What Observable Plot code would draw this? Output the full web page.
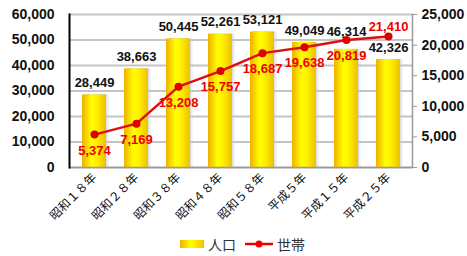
<!DOCTYPE html>
<html>
<head>
<meta charset="utf-8">
<script src="https://cdn.jsdelivr.net/npm/d3@7"></script>
<script src="https://cdn.jsdelivr.net/npm/@observablehq/plot@0.6"></script>
<style>
  body { margin: 0; background: #fff; }
  #chart { width: 467px; }
  .legend { display: flex; justify-content: center; align-items: center; height: 32px; font-family: "Noto Sans CJK JP", sans-serif; font-size: 14px; color: #333; margin-left: 26px; }
  .legend span { margin-right: 8px; }
  .sw-bar { display: inline-block; width: 24px; height: 8px; background: linear-gradient(to right, #f0b400, #ffff00 45%, #fff000 60%, #f0c000); margin-right: 4px; }
</style>
</head>
<body>
<div id="chart"></div>
<script>
const years = ["昭和１８年","昭和２８年","昭和３８年","昭和４８年","昭和５８年","平成５年","平成１５年","平成２５年"];
const population = [28449, 38663, 50445, 52261, 53121, 49049, 46314, 42326];
const households = [5374, 7169, 13208, 15757, 18687, 19638, 20819, 21410];
const leftTicks = [0, 10000, 20000, 30000, 40000, 50000, 60000];
const rightTicks = [0, 5000, 10000, 15000, 20000, 25000];

const k = 60000 / 25000;
const fmt = d3.format(",");
const data = years.map((year, i) => ({year, pop: population[i], hh: households[i], i}));
const last = data.length - 1;
const font = '"Liberation Sans", Arial, sans-serif';
// population label is lifted when the household line passes just above the bar top
const lineNear = d => d.hh * k > d.pop && d.hh * k - d.pop < 5000;

const plot = Plot.plot({
  width: 467,
  height: 228,
  marginLeft: 69,
  marginRight: 55,
  marginTop: 14,
  marginBottom: 61,
  style: {fontFamily: font, fontSize: "14px", color: "#111", background: "#fff"},
  x: {domain: years, paddingInner: 0.44, paddingOuter: 0.22, label: null},
  y: {domain: [0, 60000], label: null},
  marks: [
    Plot.gridY(leftTicks, {stroke: "#c4c4c4", strokeOpacity: 1, strokeWidth: 2}),
    Plot.barY(data, {x: "year", y: "pop", dx: 3, fill: "url(#shadowGrad)"}),
    Plot.barY(data, {x: "year", y: "pop", fill: "url(#barGrad)"}),
    Plot.ruleY([0], {stroke: "#999", strokeWidth: 1.5}),
    Plot.frame({anchor: "right", stroke: "#999", strokeWidth: 1.5}),
    Plot.frame({anchor: "left", stroke: "#000", strokeWidth: 2}),
    Plot.axisY(leftTicks, {anchor: "left", tickSize: 0, tickPadding: 15, tickFormat: fmt, fontSize: 14, fontWeight: "bold", label: null}),
    Plot.axisY(rightTicks.map(v => v * k), {anchor: "right", tickSize: 4, tickPadding: 5, stroke: "#999", tickFormat: v => fmt(Math.round(v / k)), fontSize: 14, fontWeight: "bold", label: null}),
    Plot.axisX({tickSize: 0, tickRotate: -45, tickPadding: 8, fontSize: 12, fontFamily: '"Noto Sans CJK JP", sans-serif', label: null}),
    Plot.line(data, {x: "year", y: d => d.hh * k, stroke: "#dc1010", strokeWidth: 2.5}),
    Plot.dot(data, {x: "year", y: d => d.hh * k, r: 4, fill: "#e00000", stroke: null}),
    Plot.text(data.filter(d => !lineNear(d)), {x: "year", y: "pop", text: d => fmt(d.pop), dy: -12, fontSize: 13, fontWeight: "bold", fill: "#111"}),
    Plot.text(data.filter(lineNear), {x: "year", y: "pop", text: d => fmt(d.pop), dy: -18, fontSize: 13, fontWeight: "bold", fill: "#111"}),
    Plot.text(data.filter(d => d.i < last), {x: "year", y: d => d.hh * k, text: d => fmt(d.hh), dy: 16, fontSize: 13, fontWeight: "bold", fill: "#ee0000"}),
    Plot.text(data.filter(d => d.i === last), {x: "year", y: d => d.hh * k, text: d => fmt(d.hh), dy: -10, fontSize: 13, fontWeight: "bold", fill: "#ee0000"})
  ]
});

const defs = d3.select(plot).insert("defs", ":first-child");
const g = defs.append("linearGradient").attr("id", "barGrad").attr("x1", 0).attr("x2", 1).attr("y1", 0).attr("y2", 0);
[["0%", "#f0b000"], ["40%", "#ffff00"], ["60%", "#fff200"], ["100%", "#eec000"]].forEach(([o, c]) => g.append("stop").attr("offset", o).attr("stop-color", c));
const s = defs.append("linearGradient").attr("id", "shadowGrad").attr("x1", 0).attr("x2", 1).attr("y1", 0).attr("y2", 0);
[["0%", "#999", 1], ["80%", "#aaa", 0.8], ["100%", "#ddd", 0.2]].forEach(([o, c, op]) => s.append("stop").attr("offset", o).attr("stop-color", c).attr("stop-opacity", op));

document.getElementById("chart").appendChild(plot);

const legend = document.createElement("div");
legend.className = "legend";
legend.innerHTML = `<i class="sw-bar"></i><span>人口</span>
<svg width="30" height="10" style="margin-right:3px"><line x1="1" x2="29" y1="5" y2="5" stroke="#ee0000" stroke-width="2.5"/><circle cx="15" cy="5" r="3.5" fill="#ee0000"/></svg><span>世帯</span>`;
document.getElementById("chart").appendChild(legend);
</script>
</body>
</html>
